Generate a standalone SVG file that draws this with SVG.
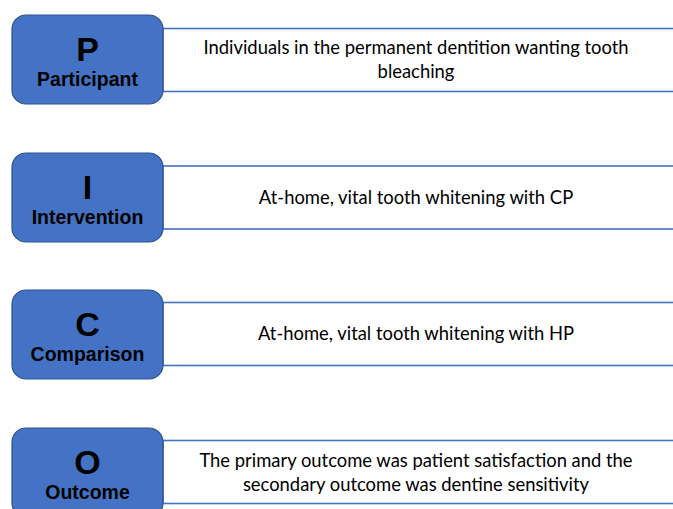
<svg xmlns="http://www.w3.org/2000/svg" width="673" height="509" viewBox="0 0 673 509">
  <style>
    .tag { fill: #4472c4; stroke: #2f528f; stroke-width: 1.2; }
    .band { fill: #ffffff; stroke: #4472c4; stroke-width: 1.6; }
    .letter { font-family: "Liberation Sans", Arial, sans-serif; font-weight: bold; font-size: 34px; fill: #000; text-anchor: middle; }
    .name { font-family: "Liberation Sans", Arial, sans-serif; font-weight: bold; font-size: 19.5px; fill: #000; text-anchor: middle; }
    .desc { font-family: Lato, "Open Sans", sans-serif; font-size: 18.4px; fill: #000; text-anchor: middle; }
  </style>
  <rect width="673" height="509" fill="#ffffff"/>

  <g id="participant">
    <rect class="band" x="163" y="28.5" width="520" height="63"/>
    <rect class="tag" x="12" y="15" width="151" height="89" rx="14"/>
    <text class="letter" x="87.5" y="61">P</text>
    <text class="name" x="87.5" y="86">Participant</text>
    <text class="desc" x="416" y="54">Individuals in the permanent dentition wanting tooth</text>
    <text class="desc" x="416" y="78">bleaching</text>
  </g>

  <g id="intervention">
    <rect class="band" x="163" y="166" width="520" height="63"/>
    <rect class="tag" x="12" y="153" width="151" height="89" rx="14"/>
    <text class="letter" x="87.5" y="199">I</text>
    <text class="name" x="87.5" y="224">Intervention</text>
    <text class="desc" x="416" y="204">At-home, vital tooth whitening with CP</text>
  </g>

  <g id="comparison">
    <rect class="band" x="163" y="302.5" width="520" height="63"/>
    <rect class="tag" x="12" y="290" width="151" height="89" rx="14"/>
    <text class="letter" x="87.5" y="336">C</text>
    <text class="name" x="87.5" y="361">Comparison</text>
    <text class="desc" x="416" y="340">At-home, vital tooth whitening with HP</text>
  </g>

  <g id="outcome">
    <rect class="band" x="163" y="440.5" width="520" height="63"/>
    <rect class="tag" x="12" y="428" width="151" height="89" rx="14"/>
    <text class="letter" x="87.5" y="474">O</text>
    <text class="name" x="87.5" y="499">Outcome</text>
    <text class="desc" x="416" y="467">The primary outcome was patient satisfaction and the</text>
    <text class="desc" x="416" y="491">secondary outcome was dentine sensitivity</text>
  </g>
</svg>
